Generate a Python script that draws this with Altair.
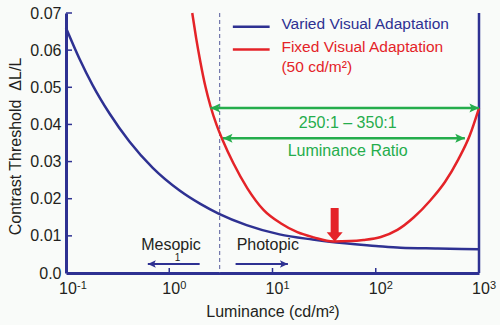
import altair as alt
import pandas as pd

BLUE = "#2e3192"
RED = "#e42328"
GREEN = "#25ad4c"
TXT = "#231f20"
FONT = "Liberation Sans"

# ---- data ----
blue_lum = [0.1, 0.135, 0.181, 0.263, 0.411, 0.692, 1.26, 2.0, 3.0, 5.61, 11.7, 24.5, 35.8,
            100, 174, 398, 1000]
blue_thr = [0.0660, 0.0577, 0.0506, 0.0430, 0.0354, 0.0283, 0.0222, 0.0186, 0.0160, 0.0129,
            0.0104, 0.0090, 0.0084, 0.0073, 0.0068, 0.0066, 0.0064]

red_lum = [1.67, 1.82, 2.0, 2.24, 2.51, 2.88, 3.31, 4.17, 5.71, 8.18, 12.0, 17.4, 25.1, 38.9,
           56.2, 75.9, 112, 162, 234, 339, 468, 631, 813, 1000]
red_thr = [0.0700, 0.0633, 0.0569, 0.0502, 0.0449, 0.0398, 0.0356, 0.0296, 0.0228, 0.0170,
           0.0134, 0.0110, 0.0096, 0.0085,
           0.0086, 0.0089, 0.0097, 0.0116, 0.0150, 0.0196, 0.0245, 0.0306, 0.0370, 0.0444]

x_ticks = [0.1, 1, 10, 100, 1000]
x_exps = ["-1", "0", "1", "2", "3"]
y_ticks = [0.0, 0.01, 0.02, 0.03, 0.04, 0.05, 0.06, 0.07]
inner_x_ticks = [1, 10, 100]
inner_y_ticks = [0.01, 0.02, 0.03, 0.04, 0.05, 0.06, 0.07]

adapt_lum = 3.08          # dashed line
fixed_adapt_min = 40      # red arrow position
ratio_arrows_y = [0.0444, 0.0363]
ratio_arrows_x1 = [2.51, 3.31]
ratio_arrows_x2 = [1000, 730]

xs = alt.Scale(type="log", domain=[0.1, 1000])
ys = alt.Scale(domain=[0, 0.07])

xaxis = alt.Axis(values=x_ticks, labels=False, ticks=False, grid=False,
                 domainColor=BLUE, domainWidth=3,
                 title="Luminance (cd/m²)", titleFont=FONT, titleFontSize=16,
                 titleFontWeight="normal", titleColor=TXT, titleY=38, titleBaseline="middle")
yaxis = alt.Axis(values=y_ticks, ticks=False, grid=False,
                 labelExpr="datum.value == 0 ? '0.0' : format(datum.value, '.2f')",
                 labelFont=FONT, labelFontSize=16, labelColor=TXT, labelPadding=5,
                 domainColor=BLUE, domainWidth=3,
                 title="Contrast Threshold\u00a0\u00a0ΔL/L", titleFont=FONT, titleFontSize=16,
                 titleFontWeight="normal", titleColor=TXT, titleX=-51, titleY=133,
                 titleAngle=-90, titleAlign="center", titleBaseline="middle")


def X(f="x"):
    return alt.X(f"{f}:Q", scale=xs, axis=xaxis)


def Y(f="y"):
    return alt.Y(f"{f}:Q", scale=ys, axis=yaxis)


blue_df = pd.DataFrame({"x": blue_lum, "y": blue_thr})
red_df = pd.DataFrame({"x": red_lum, "y": red_thr})

blue_line = alt.Chart(blue_df).mark_line(interpolate="monotone", color=BLUE, strokeWidth=2.5).encode(
    x=X(), y=Y())
red_line = alt.Chart(red_df).mark_line(interpolate="monotone", color=RED, strokeWidth=2.5).encode(
    x=X(), y=Y())

# right frame line
right_frame = alt.Chart(pd.DataFrame({"x": [1000]})).mark_rule(color=BLUE, strokeWidth=2.5).encode(
    x=X(), y=alt.value(0), y2=alt.value(260))

# dashed adaptation line
dash = alt.Chart(pd.DataFrame({"x": [adapt_lum]})).mark_rule(
    color="#555a9c", strokeWidth=1, strokeDash=[4, 3]).encode(x=X(), y=alt.value(0), y2=alt.value(260))

# inner ticks
yt = alt.Chart(pd.DataFrame({"y": inner_y_ticks})).mark_rule(color=BLUE, strokeWidth=1.5).encode(
    y=Y(), x=alt.value(0), x2=alt.value(6))
xt = alt.Chart(pd.DataFrame({"x": inner_x_ticks})).mark_rule(color=BLUE, strokeWidth=1.5).encode(
    x=X(), y=alt.value(255), y2=alt.value(260))

# x tick labels with superscripts
xlab_df = pd.DataFrame({"x": x_ticks, "e": x_exps})
xl_base = alt.Chart(xlab_df).mark_text(font=FONT, fontSize=16, color=TXT, align="center",
                                       baseline="middle", dx=2).encode(
    x=X(), y=alt.value(276), text=alt.value("10"))
xl_exp = alt.Chart(xlab_df).mark_text(font=FONT, fontSize=11, color=TXT, align="left",
                                      baseline="middle", dx=11).encode(
    x=X(), y=alt.value(273), text="e:N")

# legend
leg_lines = pd.DataFrame({"x": [4.13, 4.13], "x2": [9.38, 9.38], "y": [0.0663, 0.0602], "c": ["b", "r"]})
leg_rules = alt.Chart(leg_lines).mark_rule(strokeWidth=2.5).encode(
    x=X(), x2="x2:Q", y=Y(),
    color=alt.Color("c:N", scale=alt.Scale(domain=["b", "r"], range=[BLUE, RED]), legend=None))
leg_text = pd.DataFrame({"x": [12.2, 12.2, 12.2], "y": [0.0670, 0.0609, 0.0555],
                         "t": ["Varied Visual Adaptation", "Fixed Visual Adaptation", "(50 cd/m²)"],
                         "c": ["b", "r", "r"]})
leg_texts = alt.Chart(leg_text).mark_text(font=FONT, fontSize=15.5, align="left", baseline="middle").encode(
    x=X(), y=Y(), text="t:N",
    color=alt.Color("c:N", scale=alt.Scale(domain=["b", "r"], range=[BLUE, RED]), legend=None))

# green ratio arrows
ga = pd.DataFrame({"x": ratio_arrows_x1, "x2": ratio_arrows_x2, "y": ratio_arrows_y})
g_shaft = alt.Chart(ga).mark_rule(color=GREEN, strokeWidth=2.5).encode(x=X(), x2="x2:Q", y=Y())
LEFT_HEAD = "M0,0 L1.6,-0.75 L1.25,0 L1.6,0.75 Z"
RIGHT_HEAD = "M0,0 L-1.6,-0.75 L-1.25,0 L-1.6,0.75 Z"
g_left = alt.Chart(ga).mark_point(shape=LEFT_HEAD, filled=True, size=144, color=GREEN, opacity=1,
                                  strokeWidth=0).encode(x=X(), y=Y())
g_right = alt.Chart(ga).mark_point(shape=RIGHT_HEAD, filled=True, size=144, color=GREEN, opacity=1,
                                   strokeWidth=0).encode(x=X("x2"), y=Y())
g_text = alt.Chart(pd.DataFrame({"x": [53.5, 53.5], "y": [0.0405, 0.0329],
                                 "t": ["250:1 – 350:1", "Luminance Ratio"]})).mark_text(
    font=FONT, fontSize=16, color=GREEN, align="center", baseline="middle").encode(x=X(), y=Y(), text="t:N")

# red arrow at the fixed-adaptation minimum
ra = pd.DataFrame({"x": [fixed_adapt_min], "y": [0.0175], "y2": [0.0103], "tip": [0.0084]})
r_shaft = alt.Chart(ra).mark_rule(color=RED, strokeWidth=8).encode(x=X(), y=Y(), y2="y2:Q")
r_head = alt.Chart(ra).mark_point(shape="M-1,-1.2 L1,-1.2 L0,0 Z", filled=True, size=256, color=RED,
                                  opacity=1, strokeWidth=0).encode(x=X(), y=Y("tip"))

# Mesopic / Photopic
mp = pd.DataFrame({"x": [1.04, 9.0], "y": [0.0075, 0.0075], "t": ["Mesopic", "Photopic"]})
mp_text = alt.Chart(mp).mark_text(font=FONT, fontSize=16, color=TXT, align="center",
                                  baseline="middle").encode(x=X(), y=Y(), text="t:N")
one = alt.Chart(pd.DataFrame({"x": [1.2], "y": [0.0040], "t": ["1"]})).mark_text(
    font=FONT, fontSize=10, color=TXT, align="center", baseline="middle").encode(x=X(), y=Y(), text="t:N")
ma = pd.DataFrame({"x": [1.97, 4.39], "x2": [0.62, 14.1], "y": [0.0024, 0.0024], "d": ["l", "r"]})
m_shaft = alt.Chart(ma).mark_rule(color=BLUE, strokeWidth=2).encode(x=X(), x2="x2:Q", y=Y())
m_left = alt.Chart(ma[ma.d == "l"]).mark_point(shape=LEFT_HEAD, filled=True, size=100, color=BLUE,
                                                opacity=1, strokeWidth=0).encode(x=X("x2"), y=Y())
m_right = alt.Chart(ma[ma.d == "r"]).mark_point(shape=RIGHT_HEAD, filled=True, size=100, color=BLUE,
                                                 opacity=1, strokeWidth=0).encode(x=X("x2"), y=Y())

chart = alt.layer(
    blue_line, dash, right_frame, yt, xt, red_line,
    g_shaft, g_left, g_right, g_text,
    leg_rules, leg_texts,
    r_shaft, r_head,
    m_shaft, m_left, m_right, mp_text, one,
    xl_base, xl_exp,
).properties(
    width=413, height=260, autosize="none",
    padding={"left": 66, "top": 13, "right": 21, "bottom": 52},
    background="#f9fbf9",
).configure_view(stroke=None)

chart.save("out.html", embed_options={"renderer": "svg", "actions": False})
